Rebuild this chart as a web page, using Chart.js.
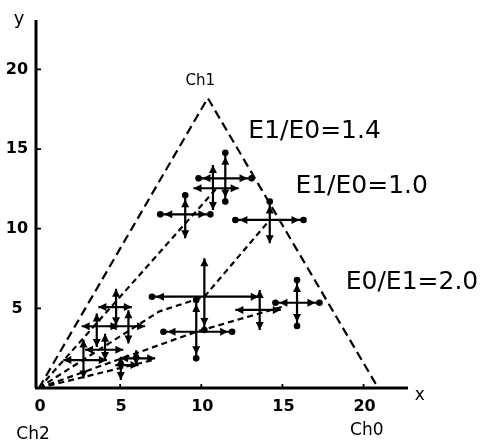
<!DOCTYPE html>
<html lang="en">
<head>
  <meta charset="UTF-8">
  <title>ternary error chart</title>
  <style>
    html, body { margin: 0; padding: 0; background: #fff; }
    canvas { display: block; }
  </style>
</head>
<body>
  <canvas id="myChart" width="484" height="447"></canvas>
  <script src="https://cdn.jsdelivr.net/npm/chart.js"></script>
  <script>
    // centres of the crosses and their error ranges
    const ptX   = [11.48, 10.72, 9.01, 14.22, 10.19, 9.69, 13.6, 15.9, 4.75, 3.56, 5.51, 4.07, 2.74, 5.04, 5.99];
    const ptY   = [13.16, 12.54, 10.9, 10.55, 5.73, 3.53, 4.9, 5.35, 5.08, 3.875, 3.875, 2.4, 1.75, 1.44, 1.86];
    const xLow  = [9.83, 9.52, 7.47, 12.1, 6.96, 7.67, 12.1, 14.57, 3.66, 2.63, 4.3, 2.84, 1.5, 4.7, 5.0];
    const xHigh = [13.1, 12.3, 10.56, 16.3, 13.54, 11.9, 14.9, 17.28, 5.72, 4.9, 6.54, 5.2, 4.18, 6.13, 7.16];
    const yLow  = [11.7, 11.17, 9.4, 9.08, 3.64, 1.86, 3.64, 3.89, 3.94, 2.58, 2.79, 1.76, 0.6, 0.5, 1.44];
    const yHigh = [14.77, 14.0, 12.1, 11.7, 8.14, 5.52, 6.15, 6.78, 6.23, 4.67, 4.875, 3.4, 3.04, 1.96, 2.375];
    const endDots = ['LRTB', '', 'LRT', 'LRT', 'LB', 'LRTB', '', 'LRTB', '', '', '', '', '', '', ''];

    // dashed guide lines
    const triangle = [{x: 0, y: 0}, {x: 10.4, y: 18.2}, {x: 20.9, y: 0}];
    const ratioLines = [
      [{x: 0, y: 0}, {x: 11.0, y: 12.6}],
      [{x: 0, y: 0}, {x: 7.4, y: 4.8}, {x: 10.19, y: 5.73}, {x: 14.22, y: 10.55}],
      [{x: 0, y: 0}, {x: 9.69, y: 3.53}, {x: 15.0, y: 5.1}],
      [{x: 0, y: 0}, {x: 7.0, y: 1.75}]
    ];

    const xTicks = [0, 5, 10, 15, 20];
    const yTicks = [5, 10, 15, 20];

    const notes = [
      {text: 'Ch1', x: 9.94, y: 19.27, size: 15, align: 'center'},
      {text: 'E1/E0=1.4', x: 12.9, y: 16.13, size: 25, align: 'left'},
      {text: 'E1/E0=1.0', x: 15.8, y: 12.62, size: 25, align: 'left'},
      {text: 'E0/E1=2.0', x: 18.9, y: 6.65, size: 25, align: 'left'},
      {text: 'Ch2', x: -0.37, y: -2.95, size: 17, align: 'center'},
      {text: 'Ch0', x: 20.2, y: -2.7, size: 17, align: 'center'},
      {text: 'x', x: 23.46, y: -0.5, size: 17, align: 'center'},
      {text: 'y', x: -1.23, y: 23.16, size: 18, align: 'center'}
    ];

    const FONT = '"DejaVu Sans", sans-serif';

    function arrowHead(c, tx, ty, dx, dy) {
      const L = 8, W = 4;
      c.beginPath();
      c.moveTo(tx, ty);
      c.lineTo(tx - dx * L - dy * W, ty - dy * L + dx * W);
      c.lineTo(tx - dx * L + dy * W, ty - dy * L - dx * W);
      c.closePath();
      c.fill();
    }

    function barEnd(c, ex, ey, dx, dy, dot) {
      if (dot) {
        c.beginPath();
        c.arc(ex, ey, 3.3, 0, Math.PI * 2);
        c.fill();
        arrowHead(c, ex - dx * 4, ey - dy * 4, dx, dy);
      } else {
        arrowHead(c, ex, ey, dx, dy);
      }
    }

    const drawing = {
      id: 'drawing',
      afterDraw(chart) {
        const c = chart.ctx;
        const sx = chart.scales.x, sy = chart.scales.y;
        const X = v => sx.getPixelForValue(v);
        const Y = v => sy.getPixelForValue(v);
        c.save();
        c.strokeStyle = '#000';
        c.fillStyle = '#000';
        c.setLineDash([]);

        // axes
        c.lineWidth = 3;
        c.beginPath();
        c.moveTo(X(0) - 4, Y(0));
        c.lineTo(X(22.8) - 1, Y(0));
        c.moveTo(X(0) - 3, Y(0));
        c.lineTo(X(0) - 3, Y(23.1));
        c.stroke();
        c.lineWidth = 1.8;
        c.beginPath();
        xTicks.forEach(t => { if (t > 0) { c.moveTo(X(t), Y(0)); c.lineTo(X(t), Y(0) - 4); } });
        yTicks.forEach(t => { c.moveTo(X(0) - 3, Y(t)); c.lineTo(X(0) + 2, Y(t)); });
        c.stroke();

        c.font = 'bold 16px ' + FONT;
        c.textAlign = 'center';
        c.textBaseline = 'middle';
        xTicks.forEach(t => c.fillText(String(t), X(t) + 1, Y(0) + 19));
        yTicks.forEach(t => c.fillText(String(t), 17, Y(t)));

        // error crosses
        c.lineWidth = 2.2;
        for (let i = 0; i < ptX.length; i++) {
          const cx = X(ptX[i]), cy = Y(ptY[i]);
          const l = X(xLow[i]), r = X(xHigh[i]);
          const t = Y(yHigh[i]), b = Y(yLow[i]);
          const d = endDots[i];
          c.beginPath();
          c.moveTo(l, cy); c.lineTo(r, cy);
          c.moveTo(cx, t); c.lineTo(cx, b);
          c.stroke();
          barEnd(c, l, cy, -1, 0, d.includes('L'));
          barEnd(c, r, cy, 1, 0, d.includes('R'));
          barEnd(c, cx, t, 0, -1, d.includes('T'));
          barEnd(c, cx, b, 0, 1, d.includes('B'));
        }

        // annotations
        notes.forEach(n => {
          c.font = n.size + 'px ' + FONT;
          c.textAlign = n.align;
          c.fillText(n.text, X(n.x), Y(n.y));
        });
        c.restore();
      }
    };

    const ctx = document.getElementById('myChart');
    const lineSets = [{
      data: triangle, borderDash: [9, 5]
    }].concat(ratioLines.map(pts => ({data: pts, borderDash: [6, 4]})));

    new Chart(ctx, {
      type: 'scatter',
      data: {
        datasets: lineSets.map(s => ({
          data: s.data,
          showLine: true,
          borderDash: s.borderDash,
          borderColor: '#000',
          borderWidth: 2.2,
          pointRadius: 0,
          tension: 0,
          fill: false
        })).concat([{
          data: ptX.map((v, i) => ({x: v, y: ptY[i]})),
          pointRadius: 0,
          showLine: false
        }])
      },
      options: {
        responsive: false,
        animation: false,
        layout: {padding: {left: 39, right: 75, top: 20, bottom: 59}},
        plugins: {legend: {display: false}, tooltip: {enabled: false}},
        scales: {
          x: {type: 'linear', min: 0, max: 22.8, display: false},
          y: {type: 'linear', min: 0, max: 23.1, display: false}
        }
      },
      plugins: [drawing]
    });
  </script>
</body>
</html>
